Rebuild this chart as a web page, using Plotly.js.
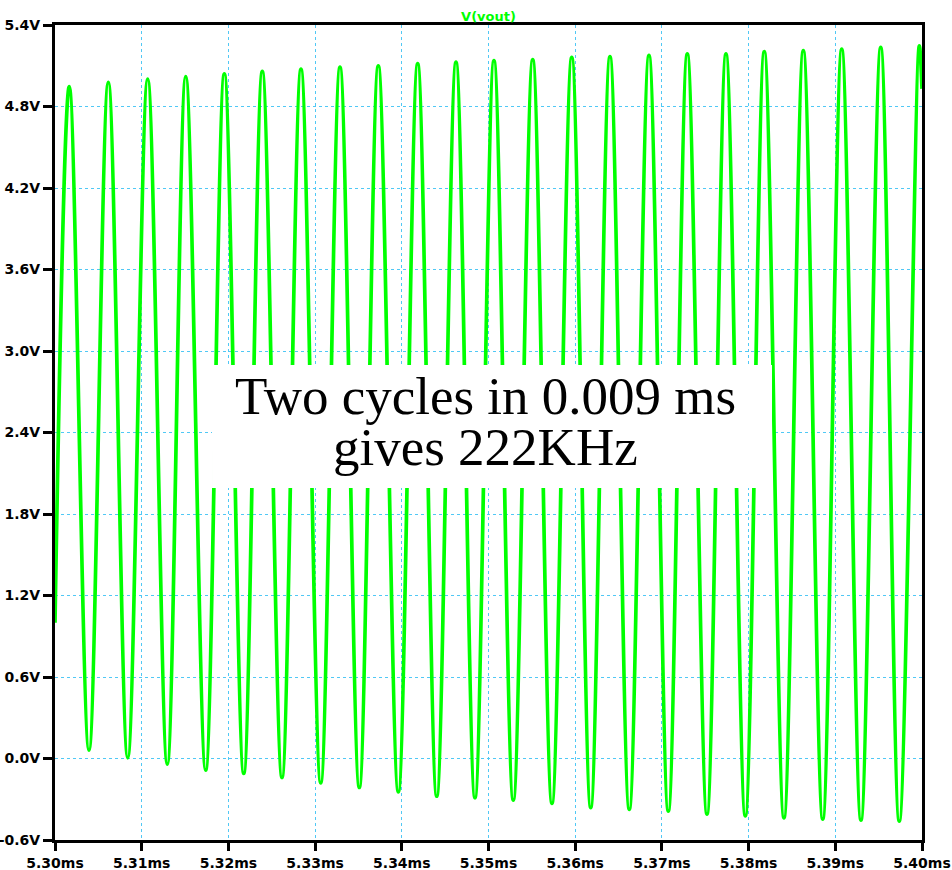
<!DOCTYPE html>
<html>
<head>
<meta charset="utf-8">
<script src="https://cdn.plot.ly/plotly-3.0.1.min.js"></script>
<style>html,body{margin:0;padding:0;background:#fff;}#chart{width:952px;height:870px;}</style>
</head>
<body>
<div id="chart"></div>
<script>
// Waveform extrema (time in ms, value in V)
const startTime = 5.300, startValue = 1.00;
const endTime = 5.400, endValue = 4.93;
const peakTimes = [5.30165,5.30615,5.31069,5.31508,5.31953,5.32391,5.32837,5.33287,5.33729,5.34183,5.34625,5.35063,5.35510,5.35960,5.36401,5.36851,5.37293,5.37739,5.38181,5.38631,5.39074,5.39524,5.39969];
const peakValues = [4.947,4.977,5.002,5.021,5.041,5.058,5.075,5.090,5.100,5.115,5.127,5.138,5.145,5.161,5.168,5.176,5.188,5.188,5.205,5.212,5.222,5.235,5.247];
const troughTimes = [5.30392,5.30839,5.31295,5.31738,5.32177,5.32618,5.33065,5.33510,5.33960,5.34403,5.34844,5.35286,5.35732,5.36179,5.36624,5.37074,5.37520,5.37962,5.38408,5.38855,5.39296,5.39738];
const troughValues = [0.061,0.005,-0.042,-0.086,-0.110,-0.140,-0.179,-0.213,-0.245,-0.278,-0.289,-0.307,-0.331,-0.361,-0.375,-0.388,-0.410,-0.422,-0.437,-0.447,-0.454,-0.462];

const xTickVals = [5.30,5.31,5.32,5.33,5.34,5.35,5.36,5.37,5.38,5.39,5.40];
const xTickText = ["5.30ms","5.31ms","5.32ms","5.33ms","5.34ms","5.35ms","5.36ms","5.37ms","5.38ms","5.39ms","5.40ms"];
const yTickVals = [-0.6,0.0,0.6,1.2,1.8,2.4,3.0,3.6,4.2,4.8,5.4];
const yTickText = ["-0.6V","0.0V","0.6V","1.2V","1.8V","2.4V","3.0V","3.6V","4.2V","4.8V","5.4V"];

const traceName = "V(vout)";
const noteLines = ["Two cycles in 0.009 ms", "gives 222KHz"];

// merge extrema in time order
const xs = [startTime], ys = [startValue];
for (let i = 0; i < peakTimes.length; i++) {
  xs.push(peakTimes[i]); ys.push(peakValues[i]);
  if (i < troughTimes.length) { xs.push(troughTimes[i]); ys.push(troughValues[i]); }
}
xs.push(endTime); ys.push(endValue);

const green = "#00ff00";
const gridColor = "rgb(80,200,245)";
const tickFont = {family: "DejaVu Sans", size: 14, color: "#000", weight: "bold"};

const trace = {
  x: xs, y: ys, type: "scatter", mode: "lines",
  line: {color: green, width: 3.7, shape: "spline", smoothing: 1},
  hoverinfo: "skip", cliponaxis: true
};

const layout = {
  width: 952, height: 870,
  margin: {l: 55, r: 30, t: 25, b: 30},
  paper_bgcolor: "#fff", plot_bgcolor: "#fff",
  showlegend: false,
  title: {text: traceName, font: {family: "DejaVu Sans", size: 13, color: green, weight: "bold"},
          x: 0.5, xref: "paper", y: 1, yref: "paper", yanchor: "bottom", pad: {b: 4}},
  xaxis: {
    range: [5.30, 5.40], tickvals: xTickVals, ticktext: xTickText,
    showgrid: true, gridcolor: gridColor, gridwidth: 1, griddash: "3px,3px",
    zeroline: false, showline: true, linecolor: "#000", linewidth: 3, mirror: true,
    ticks: "outside", ticklen: 8, tickwidth: 3, tickcolor: "#000",
    tickfont: tickFont, layer: "below traces"
  },
  yaxis: {
    range: [-0.6, 5.4], tickvals: yTickVals, ticktext: yTickText,
    showgrid: true, gridcolor: gridColor, gridwidth: 1, griddash: "3px,3px",
    zeroline: false, showline: true, linecolor: "#000", linewidth: 3, mirror: true,
    ticks: "outside", ticklen: 9, tickwidth: 3, tickcolor: "#000",
    tickfont: tickFont, layer: "below traces"
  },
  shapes: [{
    type: "rect", xref: "x", yref: "y", layer: "above",
    x0: 5.31811, x1: 5.38270, y0: 1.991, y1: 2.897,
    fillcolor: "#fff", line: {width: 0}
  }],
  annotations: [
    {text: noteLines[0], xref: "x", yref: "y", x: 5.34971, y: 2.669, xanchor: "center", yanchor: "middle",
     showarrow: false, font: {family: "Liberation Serif", size: 53, color: "#000"}},
    {text: noteLines[1], xref: "x", yref: "y", x: 5.34971, y: 2.293, xanchor: "center", yanchor: "middle",
     showarrow: false, font: {family: "Liberation Serif", size: 53, color: "#000"}}
  ]
};

Plotly.newPlot("chart", [trace], layout, {staticPlot: true, displayModeBar: false});
</script>
</body>
</html>
